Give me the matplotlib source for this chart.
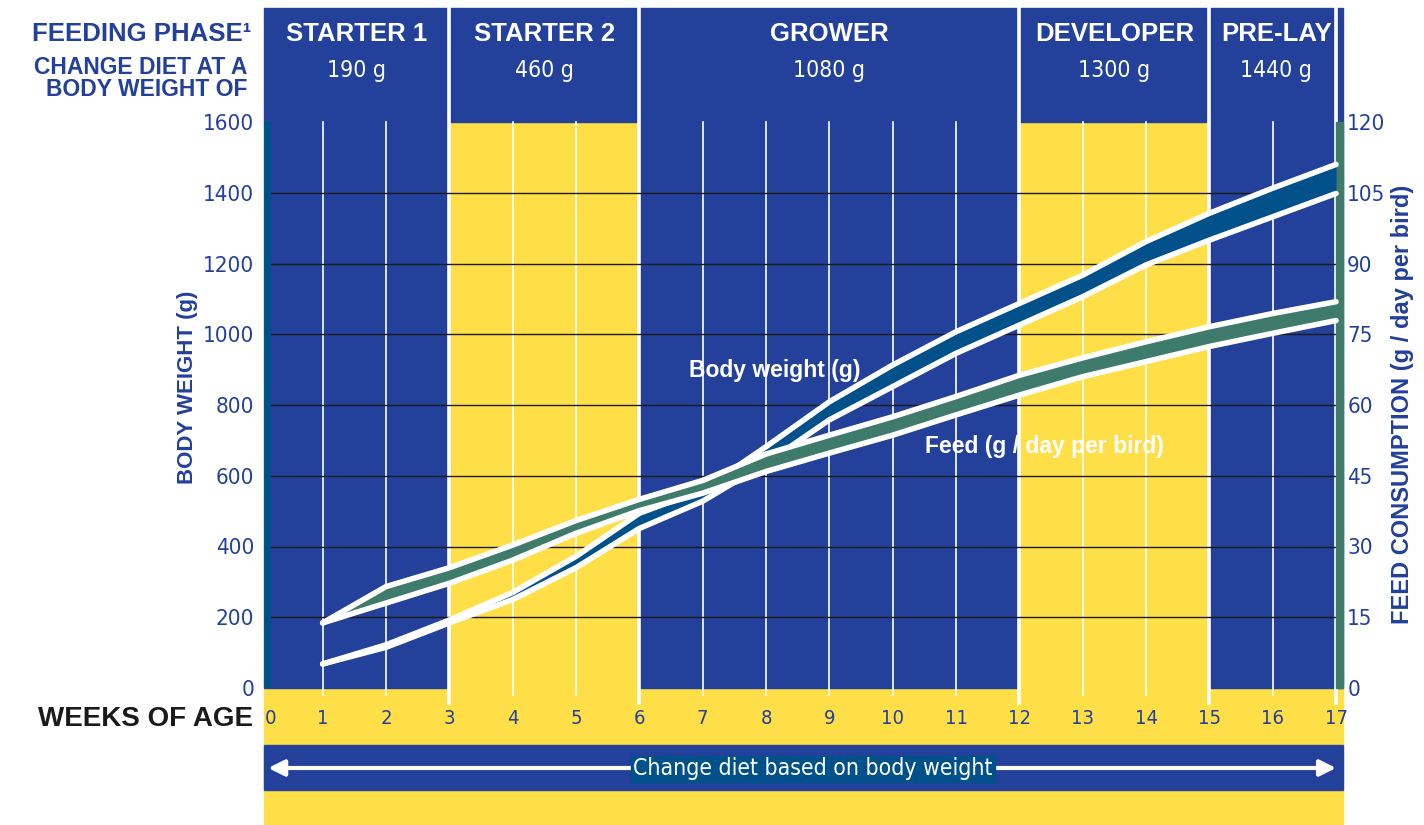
import matplotlib.pyplot as plt
from matplotlib.patches import Rectangle

W, H = 1424, 825

# data
weeks = [1, 2, 3, 4, 5, 6, 7, 8, 9, 10, 11, 12, 13, 14, 15, 16, 17]
bw_upper = [68, 122, 192, 270, 372, 494, 560, 682, 809, 913, 1007, 1087, 1167, 1262, 1342, 1413, 1480]
bw_lower = [68, 115, 184, 250, 340, 451, 528, 635, 758, 852, 946, 1026, 1106, 1196, 1266, 1332, 1398]
feed_upper = [13.8, 21.5, 25.5, 30.3, 35.5, 40.0, 44.0, 49.6, 53.6, 57.5, 61.8, 66.3, 70.0, 73.4, 76.6, 79.4, 81.9]
feed_lower = [13.8, 18.0, 22.2, 27.1, 32.8, 37.6, 41.3, 45.9, 49.8, 53.6, 57.9, 62.1, 66.0, 69.2, 72.4, 75.2, 77.9]

phases = ['STARTER 1', 'STARTER 2', 'GROWER', 'DEVELOPER', 'PRE-LAY']
phase_weights = ['190 g', '460 g', '1080 g', '1300 g', '1440 g']
phase_edges = [0, 3, 6, 12, 15, 17]
week_ticks = list(range(0, 18))
bw_ticks = list(range(0, 1601, 200))
feed_ticks = list(range(0, 121, 15))

BLUE = '#23409A'
YELLOW = '#FFDF47'
BW_C = '#00508A'
FEED_C = '#3F7B6B'
NARROW = dict(family='DejaVu Sans', stretch='condensed')
BOLD = ['Liberation Sans', 'DejaVu Sans']
phase_fill = [BLUE, YELLOW, BLUE, YELLOW, BLUE]


def py(y):
    # figure pixel row -> body weight units
    return (688 - y) * 1600 / 566


def px(x):
    # figure pixel column -> weeks
    return (x - 259.3) / 63.33


fig = plt.figure(figsize=(W / 100, H / 100), dpi=100)
ax = fig.add_axes([264 / W, 1 - 688 / H, (1343 - 264) / W, (688 - 122) / H])
x0, x1 = 0.074, 17.11
ax.set_xlim(x0, x1)
ax.set_ylim(0, 1600)
ax.patch.set_visible(False)
for s in ax.spines.values():
    s.set_visible(False)

# bottom bands
ax.add_patch(Rectangle((x0, py(825)), x1 - x0, -py(825), color=YELLOW, clip_on=False, zorder=0))
ax.add_patch(Rectangle((x0, py(790)), x1 - x0, py(745) - py(790), color=BLUE, clip_on=False, zorder=0))

# phase columns + headers
for i, name in enumerate(phases):
    a = max(phase_edges[i], x0)
    b = phase_edges[i + 1] if i < len(phases) - 1 else x1
    ax.add_patch(Rectangle((a, 0), b - a, 1600, color=phase_fill[i], clip_on=False, zorder=0))
    ax.add_patch(Rectangle((a, 1600), b - a, py(8) - 1600, color=BLUE, clip_on=False, zorder=0))
    ax.text((a + b) / 2, py(34), name, ha='center', va='center', color='white',
            fontsize=18.5, fontweight='bold', family=BOLD, clip_on=False)
    ax.text((a + b) / 2, py(70), phase_weights[i], ha='center', va='center', color='white',
            fontsize=16.5, clip_on=False, **NARROW)

# weekly white lines
for w in week_ticks[1:]:
    if w in phase_edges:
        ax.plot([w, w], [py(703), py(8)], color='white', lw=2.6, clip_on=False, zorder=1)
    else:
        ax.plot([w, w], [py(695), 1600], color='white', lw=1.2, clip_on=False, zorder=1)

# horizontal grid
for v in bw_ticks[1:-1]:
    ax.plot([0.17, 17], [v, v], color='#1a1a1a', lw=1.0, zorder=2)

# side bars
ax.add_patch(Rectangle((x0, 0), 0.095, 1600, color=BW_C, zorder=2))
ax.add_patch(Rectangle((17.0, 0), x1 - 17.0, 1600, color=FEED_C, zorder=2, clip_on=False))

# body weight band
ax.fill_between(weeks, bw_lower, bw_upper, color=BW_C, lw=0, zorder=3)
for series in (bw_upper, bw_lower):
    ax.plot(weeks, series, color='white', lw=4, solid_capstyle='round',
            solid_joinstyle='round', zorder=4)

ax.set_xticks([])
ax.set_yticks(bw_ticks)
ax.tick_params(axis='y', length=0, pad=7, labelcolor=BLUE, labelsize=16)
for lab in ax.get_yticklabels():
    lab.set_family('DejaVu Sans')
    lab.set_stretch('condensed')

# week labels
for w in week_ticks:
    ax.text(max(w, 0.17), py(719), str(w), ha='center', va='center', color=BLUE,
            fontsize=14.5, clip_on=False, **NARROW)

ax.text(8.14, py(370), 'Body weight (g)', ha='center', va='center', color='white',
        fontsize=16.5, fontweight='bold', family=BOLD, zorder=6)
ax.text(10.51, py(447), 'Feed (g / day per bird)', ha='left', va='center', color='white',
        fontsize=16.5, fontweight='bold', family=BOLD, zorder=6)

# bottom arrow with label box
ax.annotate('', xy=(0.14, py(768)), xytext=(17.0, py(768)), annotation_clip=False,
            arrowprops=dict(arrowstyle='<|-|>', color='white', lw=3, mutation_scale=24,
                            shrinkA=0, shrinkB=0), zorder=5)
ax.add_patch(Rectangle((px(631), py(782)), px(995) - px(631), py(756) - py(782),
                       color=BW_C, clip_on=False, zorder=6))
ax.text(px(813), py(769), 'Change diet based on body weight', ha='center', va='center',
        color='white', fontsize=16.5, clip_on=False, zorder=7, **NARROW)

# feed band on right axis
ax2 = ax.twinx()
ax2.set_ylim(0, 120)
for s in ax2.spines.values():
    s.set_visible(False)
ax2.fill_between(weeks, feed_lower, feed_upper, color=FEED_C, lw=0, zorder=3)
for series in (feed_upper, feed_lower):
    ax2.plot(weeks, series, color='white', lw=4, solid_capstyle='round',
             solid_joinstyle='round', zorder=4)
ax2.set_yticks(feed_ticks)
ax2.tick_params(axis='y', length=0, pad=3, labelcolor=BLUE, labelsize=16)
for lab in ax2.get_yticklabels():
    lab.set_family('DejaVu Sans')
    lab.set_stretch('condensed')

# left header texts and axis titles
fig.text(251 / W, 1 - 34 / H, 'FEEDING PHASE¹', ha='right', va='center', color=BLUE,
         fontsize=18.5, fontweight='bold', family=BOLD)
fig.text(247 / W, 1 - 68 / H, 'CHANGE DIET AT A', ha='right', va='center', color=BLUE,
         fontsize=16.5, fontweight='bold', family=BOLD)
fig.text(247 / W, 1 - 90 / H, 'BODY WEIGHT OF', ha='right', va='center', color=BLUE,
         fontsize=16.5, fontweight='bold', family=BOLD)
fig.text(253 / W, 1 - 719 / H, 'WEEKS OF AGE', ha='right', va='center', color='#1a1a1a',
         fontsize=20, fontweight='bold', family=BOLD)
fig.text(188 / W, 1 - 387 / H, 'BODY WEIGHT (g)', rotation=90, ha='center', va='center',
         color=BLUE, fontsize=16, fontweight='bold', family=BOLD)
fig.text(1402 / W, 1 - 404 / H, 'FEED CONSUMPTION (g / day per bird)', rotation=90,
         ha='center', va='center', color=BLUE, fontsize=17, fontweight='bold', family=BOLD)

fig.savefig('out.png', dpi=100)
